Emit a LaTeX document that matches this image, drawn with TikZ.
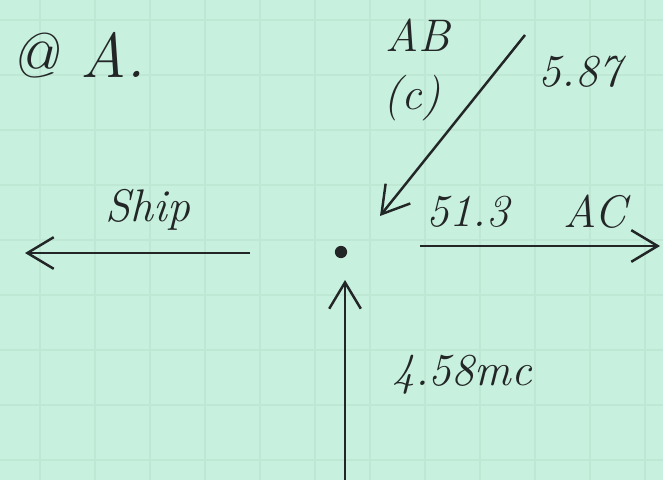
\documentclass[tikz,border=0pt]{standalone}
\usetikzlibrary{arrows.meta}
\definecolor{paper}{RGB}{200,240,222}
\definecolor{gridc}{RGB}{190,232,212}
\definecolor{ink}{RGB}{35,38,38}
\begin{document}
\begin{tikzpicture}[x=0.02cm,y=-0.02cm,
  vec/.style={draw=ink,line width=1.4pt,-{Straight Barb[length=15pt,width=18pt,line width=1.4pt]}},
  hand/.style={text=ink,font=\itshape\fontsize{26}{28}\selectfont,inner sep=0pt},
  big/.style={text=ink,font=\itshape\fontsize{36}{40}\selectfont,inner sep=0pt}]
\fill[paper] (0,0) rectangle (663,480);
\useasboundingbox (0,0) rectangle (663,480);
\foreach \x in {40,95,150,205,260,315,370,425,480,535,590,645}
  \draw[gridc,line width=0.7pt] (\x,0) -- (\x,480);
\foreach \y in {20,75,130,185,240,295,350,405,460}
  \draw[gridc,line width=0.7pt] (0,\y) -- (663,\y);
% title
\node[big] (title) at (78,55) {@ A.};
% centre point
\node[circle,fill=ink,inner sep=0pt,minimum size=7pt] (A) at (341,252) {};
% free ends
\coordinate (Ls) at (250,253);
\coordinate (Le) at (25,253);
\coordinate (Rs) at (420,246);
\coordinate (Re) at (660,246);
\coordinate (Ds) at (525,35);
\coordinate (De) at (380,216);
\coordinate (Us) at (345,480);
\coordinate (Ue) at (345,280);
\draw[vec] (Ls) -- (Le);
\draw[vec] (Rs) -- (Re);
\draw[vec] (Ds) -- (De);
\draw[vec] (Us) -- (Ue);
% labels
\node[hand] (ship) at (148,210) {Ship};
\node[hand] (v513) at (468,212) {51.3};
\node[hand] (ac) at (595,212) {AC};
\node[hand] (ab) at (418,35) {AB};
\node[hand] (cc) at (412,98) {(c)};
\node[hand] (v587) at (580,72) {5.87};
\node[hand] (v458) at (462,375) {4.58mc};
\end{tikzpicture}
\end{document}
